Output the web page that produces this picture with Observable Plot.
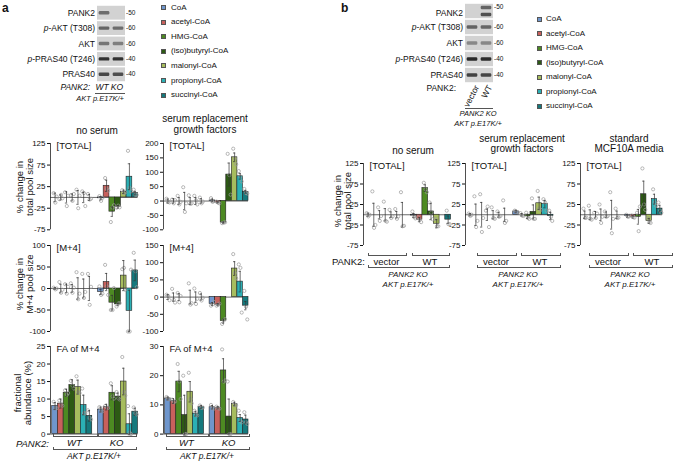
<!DOCTYPE html>
<html><head><meta charset="utf-8">
<script src="https://cdn.jsdelivr.net/npm/d3@7"></script>
<script src="https://cdn.jsdelivr.net/npm/@observablehq/plot@0.6"></script>
<style>
body{margin:0;background:#fff;}
#fig{position:relative;width:674px;height:461px;font-family:"Liberation Sans",Arial,sans-serif;color:#111;overflow:hidden;}
.t{position:absolute;white-space:nowrap;line-height:1.05;}
.br{position:absolute;border:0.8px solid #555;border-top:none;height:2px;box-sizing:content-box;}
.hl{position:absolute;border-top:0.8px solid #555;height:0;}
.sw{position:absolute;width:5px;height:5px;box-sizing:border-box;border:0.7px solid #555;}
.pl{position:absolute;}
</style></head><body><div id="fig"></div>
<script>
// ---------- categories & colours ----------
const metabolites = ["CoA","acetyl-CoA","HMG-CoA","(iso)butyryl-CoA","malonyl-CoA","propionyl-CoA","succinyl-CoA"];
const metColors = ["#6f96cc","#c8605c","#4d8a22","#2d5a14","#a7bd5e","#2bb0b5","#15797d"];

// ---------- blot data ----------
const blotRowsA = ["PANK2","<i>p</i>-AKT (T308)","AKT","<i>p</i>-PRAS40 (T246)","PRAS40"];
const blotMW = ["-50","-60","-60","-40","-40"];
const blotLanesA = ["WT","KO"];
const blotLanesB = ["vector","WT"];
// band: row, lane, band (0 single / -1 upper / 1 lower), intensity
const blotBandsA = [[0,0,0,0.55],[1,0,0,0.6],[1,1,0,0.55],[2,0,0,0.5],[2,1,0,0.45],[3,0,0,0.88],[3,1,0,0.88],[4,0,0,0.75],[4,1,0,0.72]];
const blotBandsB = [[0,1,-1,0.6],[0,1,1,0.7],[1,0,0,0.6],[1,1,0,0.58],[2,0,0,0.4],[2,1,0,0.4],[3,0,0,0.92],[3,1,0,0.9],[4,0,0,0.78],[4,1,0,0.76]];

// ---------- panel a, [TOTAL], no serum (WT x7, KO x7) ----------
const aTotNS_mean = [0,0,0,0,0,0,0, -2,27,-33,-22,13,48,10];
const aTotNS_err  = [10,6,13,8,16,12,7, 4,13,11,3,4,30,4];
const aTotNS_pts  = [[10,-12,2],[-4,6,-2],[12,-20,4],[5,-8,8],[18,-25,4],[14,10,-20],[8,-5,-3],
  [3,-8,-1],[45,20,16],[-57,-24,-18],[-24,-19,-23],[17,10,12],[108,22,14],[18,6,6]];
// ---------- panel a, [TOTAL], serum replacement ----------
const aTotSR_mean = [0,0,0,0,0,0,0, 2,-5,-75,92,152,86,32];
const aTotSR_err  = [7,8,12,30,12,12,8, 5,2,2,40,15,10,5];
const aTotSR_pts  = [[8,-3,-5],[5,-8,3],[18,-12,-3],[48,-38,-8],[20,-10,-8],[18,2,-12],[12,-8,-2],
  [10,-3,0],[-2,-6,-8],[-77,-75,-74],[164,90,22],[182,148,128],[104,85,68],[42,28,26]];
// ---------- panel a, [M+4], no serum ----------
const aM4NS_mean = [0,0,0,0,0,0,0, -8,15,-33,-37,30,-52,42];
const aM4NS_err  = [2,10,10,9,25,22,28, 6,20,17,3,35,48,24];
const aM4NS_pts  = [[2,-2,0],[15,-10,-3],[10,-12,4],[12,-10,2],[38,-25,-12],[34,-22,-8],[34,-38,4],
  [5,-15,-12],[55,5,-15],[-50,-50,1],[-42,-35,-34],[45,48,-3],[-100,-100,44],[83,40,3]];
// ---------- panel a, [M+4], serum replacement ----------
const aM4SR_mean = [0,0,0,null,0,0,0, -20,-22,-70,null,83,45,-25];
const aM4SR_err  = [7,12,10,null,20,15,9, 4,3,6,null,20,30,12];
const aM4SR_pts  = [[7,3,-9],[24,-8,-16],[12,-15,3],[],[40,-22,-18],[25,-20,-5],[12,-10,-2],
  [-25,-21,-14],[-25,-22,-19],[-78,-68,-64],[],[125,70,55],[95,85,-45],[18,-28,-65]];
// ---------- panel a, FA of M+4, no serum ----------
const aFANS_mean = [8,8.7,11.8,14,13.4,8.3,5.2, 7,7.7,11.8,10.7,15,2.8,6.4];
const aFANS_err  = [1,1.3,1,1.5,2,2.8,1.5, 0.7,0.8,2,1,3.8,3,1];
const aFANS_pts  = [[9.2,7.4,7.4],[9.6,8.4,8.1],[12.5,11.2,11.7],[15.2,13.8,13],[16.5,12,11.7],[13,6,5.9],[6.8,4.6,4.2],
  [7.7,6.8,6.5],[8,7.6,7.5],[14.5,10.8,10.1],[12,10.2,9.9],[22,12,11],[8,0.4,0],[7.6,6,5.6]];
// ---------- panel a, FA of M+4, serum replacement ----------
const aFASR_mean = [12.2,11.3,18,6.5,14.5,7,9.3, 9.2,9,21.8,6,10.3,5.5,5];
const aFASR_err  = [0.5,0.8,3.5,6.8,3.5,0.8,0.5, 0.6,0.4,4,6,0.6,1.2,1.5];
const aFASR_pts  = [[12.7,12,11.9],[11.8,10.9,11.2],[24,18,12],[20,0,0],[21,12,10.5],[8,6.6,6.4],[9.8,9,9.1],
  [10,8.9,8.7],[9.4,8.9,8.7],[29,18,18.4],[18,0,0],[11,10,9.9],[8,4.5,4],[7.5,4,3.5]];
// ---------- panel b, [TOTAL] (vector x7, WT x7) ----------
const bNS_mean = [0,0,0,0,0,0,0, -2,-12,65,8,-22,null,-12];
const bNS_err  = [4,28,10,15,7,8,30, 5,5,8,20,10,null,9];
const bNS_pts  = [[4,-4,0],[57,-32,-25],[18,-15,-3],[32,-15,-17],[12,-8,-4],[14,-10,-4],[55,-28,-27],
  [8,-5,-9],[-6,-12,-18],[78,62,55],[30,5,-11],[-10,-28,-28],[],[10,-23,-23]];
const bSR_mean = [0,0,0,0,0,0,0, 8,0,-4,7,28,26,-3];
const bSR_err  = [3,26,30,14,10,6,16, 3,3,5,17,15,9,9];
const bSR_pts  = [[3,-3,0],[45,-30,-15],[50,-42,-8],[10,20,-30],[18,-8,-10],[8,-5,-3],[35,-20,-15],
  [10,7,6],[4,-2,-3],[5,-8,-10],[40,-10,-10],[58,15,12],[38,30,10],[10,-5,-15]];
const bMCF_mean = [0,0,0,0,0,0,0, -3,-5,-5,50,-15,38,15];
const bMCF_err  = [9,12,8,14,7,35,9, 3,3,18,32,6,12,8];
const bMCF_pts  = [[15,-8,-7],[22,-10,-12],[5,-8,3],[25,-20,-5],[8,-5,-3],[55,-45,-10],[15,-8,-7],
  [0,-5,-4],[-2,-6,-7],[5,-40,20],[113,25,12],[-8,-18,-20],[62,30,22],[30,10,5]];

// ---------- tick labels ----------
const ticksPct125 = [125,75,25,-25,-75];
const ticksPct200 = [200,150,100,50,0,-50,-100];
const ticksPct100 = [100,50,0,-50,-100];
const ticksPct150 = [150,100,50,0,-50,-100];
const ticksFA25 = [0,5,10,15,20,25];
const ticksFA30 = [0,10,20,30];

// ---------- helpers ----------
const fig = document.getElementById("fig");
const FONT = '"Liberation Sans", Arial, sans-serif';
function txt(s, x, y, o = {}) {
  const d = document.createElement("div");
  d.className = "t";
  d.innerHTML = s;
  d.style.fontSize = (o.size || 9) + "px";
  if (o.italic) d.style.fontStyle = "italic";
  if (o.bold) d.style.fontWeight = "bold";
  if (o.center) d.style.textAlign = "center";
  if (o.rotEnd) {
    d.style.right = (674 - x) + "px"; d.style.top = y + "px";
    d.style.transformOrigin = "100% 50%";
    d.style.transform = `translateY(-50%) rotate(${o.rotEnd}deg)`;
  } else {
    d.style.left = x + "px"; d.style.top = y + "px";
    const a = o.anchor || "start";
    const tx = a === "end" ? "-100%" : a === "middle" ? "-50%" : "0";
    d.style.transform = `translate(${tx},-50%)` + (o.rot ? ` rotate(${o.rot}deg)` : "");
  }
  fig.appendChild(d);
}
function bracket(x1, x2, y) {
  const d = document.createElement("div");
  d.className = "br";
  d.style.left = x1 + "px"; d.style.top = (y - 2) + "px"; d.style.width = (x2 - x1) + "px";
  fig.appendChild(d);
}
function hline(x1, x2, y) {
  const d = document.createElement("div");
  d.className = "hl";
  d.style.left = x1 + "px"; d.style.top = y + "px"; d.style.width = (x2 - x1) + "px";
  fig.appendChild(d);
}
function place(node, left, top) {
  const w = document.createElement("div");
  w.className = "pl"; w.style.left = left + "px"; w.style.top = top + "px";
  w.appendChild(node); fig.appendChild(w);
}

// ---------- bar chart ----------
const mL = 30, mT = 8, mB = 6, mR = 4;
const jitter = [-0.25, 0.05, 0.28];
function chart(means, errs, pts, opt) {
  const {axisX, yTop, yBot, xEnd, domain, ticks, label, allBars} = opt;
  const rows = means.map((m, i) => ({
    slot: i < 7 ? i : i + 1, cat: i % 7, m, e: errs[i], bar: allBars || i >= 7
  })).filter(d => d.m !== null);
  const points = [];
  means.forEach((m, i) => (pts[i] || []).forEach((v, j) =>
    points.push({x: (i < 7 ? i : i + 1) + jitter[j], y: v})));
  const W = (xEnd - axisX) + mL + mR;
  const H = (yBot - yTop) + mT + mB;
  const p = Plot.plot({
    width: W, height: H, marginLeft: mL, marginTop: mT, marginBottom: mB, marginRight: mR,
    style: {background: "transparent", fontFamily: FONT, fontSize: "8px", color: "#111", overflow: "visible"},
    x: {domain: [-0.8, 14.5], axis: null},
    y: {domain: [domain[0], domain[1]], ticks, tickSize: 3, tickPadding: 2, tickFormat: d => String(d), label: null},
    marks: [
      Plot.ruleY([0], {stroke: "#444", strokeWidth: 0.8}),
      Plot.rect(rows.filter(d => d.bar), {
        x1: d => d.slot - 0.5, x2: d => d.slot + 0.5, y1: 0, y2: "m",
        fill: d => metColors[d.cat], stroke: "#222", strokeWidth: 0.6
      }),
      Plot.dot(points, {x: "x", y: "y", r: 1.6, stroke: "#9a9a9a", strokeWidth: 0.7, fill: "none"}),
      Plot.ruleX(rows, {x: "slot", y1: d => d.m - d.e, y2: d => d.m + d.e, stroke: "#333", strokeWidth: 0.7}),
      Plot.ruleY(rows, {y: d => d.m + d.e, x1: d => d.slot - 0.2, x2: d => d.slot + 0.2, stroke: "#333", strokeWidth: 0.7}),
      Plot.ruleY(rows, {y: d => d.m - d.e, x1: d => d.slot - 0.2, x2: d => d.slot + 0.2, stroke: "#333", strokeWidth: 0.7}),
      Plot.ruleX([-0.8], {y1: domain[0], y2: domain[1], stroke: "#222", strokeWidth: 0.8}),
      Plot.text([label], {text: d => d, frameAnchor: "top-left", textAnchor: "start", dx: 6, dy: -1, fontSize: 9.5})
    ]
  });
  place(p, axisX - mL, yTop - mT);
}

// ---------- blot ----------
function blot(bands, nLanes, left, top, w, h) {
  const rowIdx = [0, 1, 2, 3, 4];
  const p = Plot.plot({
    width: w, height: h, margin: 0,
    style: {background: "transparent", overflow: "visible"},
    x: {domain: [0, nLanes], axis: null},
    y: {domain: [5, 0], axis: null},
    marks: [
      Plot.rect(rowIdx, {x1: 0, x2: nLanes, y1: d => d + 0.05, y2: d => d + 0.95, fill: "#d2d2d2"}),
      Plot.rect(bands, {
        x1: d => d[1] + 0.12, x2: d => d[1] + 0.88,
        y1: d => d[0] + 0.5 + d[2] * 0.22 - 0.11, y2: d => d[0] + 0.5 + d[2] * 0.22 + 0.11,
        fill: "#1a1a1a", fillOpacity: d => d[3], rx: 1.2
      })
    ]
  });
  place(p, left, top);
}

// ================= PANEL A =================
txt("a", 2, 8, {size: 12, bold: true});
blot(blotBandsA, blotLanesA.length, 97, 5, 28, 77);
blotRowsA.forEach((r, i) => {
  const yc = 5 + 77 / 5 * (i + 0.5);
  txt(r, 95, yc, {anchor: "end", size: 8.5});
  txt(blotMW[i], 126, yc, {size: 6.5});
});
txt("PANK2:", 90, 87, {anchor: "end", size: 8.5, italic: true});
txt(blotLanesA[0], 102, 87, {anchor: "middle", size: 8.5, italic: true});
txt(blotLanesA[1], 117, 87, {anchor: "middle", size: 8.5, italic: true});
hline(95, 125, 92.5);
txt("AKT p.E17K/+", 124, 99, {anchor: "end", size: 7.5, italic: true});
metabolites.forEach((m, i) => {
  const y = 7.5 + 14.6 * i;
  const s = document.createElement("div");
  s.className = "sw"; s.style.left = "161px"; s.style.top = (y - 2.5) + "px"; s.style.background = metColors[i];
  fig.appendChild(s);
  txt(m, 171, y, {size: 8});
});

txt("no serum", 97, 131, {anchor: "middle", size: 10});
txt("serum replacement<br>growth factors", 205, 124, {anchor: "middle", size: 10, center: true});

txt("% change in<br>total pool size", 25, 187, {anchor: "middle", rot: -90, size: 9.5, center: true});
txt("% change in<br>M+4 pool size", 25, 284, {anchor: "middle", rot: -90, size: 9.5, center: true});
txt("fractional<br>abundance (%)", 23, 393, {anchor: "middle", rot: -90, size: 9.5, center: true});

chart(aTotNS_mean, aTotNS_err, aTotNS_pts, {axisX: 50, yTop: 142.7, yBot: 229, xEnd: 137.5, domain: [-75, 125], ticks: ticksPct125, label: "[TOTAL]"});
chart(aTotSR_mean, aTotSR_err, aTotSR_pts, {axisX: 163, yTop: 142.7, yBot: 229, xEnd: 248, domain: [-100, 200], ticks: ticksPct200, label: "[TOTAL]"});
chart(aM4NS_mean, aM4NS_err, aM4NS_pts, {axisX: 50, yTop: 245, yBot: 331, xEnd: 137.5, domain: [-100, 100], ticks: ticksPct100, label: "[M+4]"});
chart(aM4SR_mean, aM4SR_err, aM4SR_pts, {axisX: 163, yTop: 245, yBot: 331, xEnd: 248, domain: [-100, 150], ticks: ticksPct150, label: "[M+4]"});
chart(aFANS_mean, aFANS_err, aFANS_pts, {axisX: 50, yTop: 345.7, yBot: 433.3, xEnd: 137.5, domain: [0, 25], ticks: ticksFA25, label: "FA of M+4", allBars: true});
chart(aFASR_mean, aFASR_err, aFASR_pts, {axisX: 163, yTop: 345.7, yBot: 433.3, xEnd: 248, domain: [0, 30], ticks: ticksFA30, label: "FA of M+4", allBars: true});

txt("PANK2:", 49, 443.5, {anchor: "end", size: 9.5, italic: true});
[[53, 96, 98, 135], [166, 207, 209, 248]].forEach(([a1, a2, b1, b2]) => {
  bracket(a1, a2, 436); bracket(b1, b2, 436);
  txt(blotLanesA[0], (a1 + a2) / 2, 443, {anchor: "middle", size: 9.5, italic: true});
  txt(blotLanesA[1], (b1 + b2) / 2, 443, {anchor: "middle", size: 9.5, italic: true});
  bracket(a1, b2, 448.5);
  txt("AKT p.E17K/+", (a1 + b2) / 2, 456, {anchor: "middle", size: 8.5, italic: true});
});

// ================= PANEL B =================
txt("b", 341, 8, {size: 12, bold: true});
blot(blotBandsB, blotLanesB.length, 465, 3, 28, 80);
blotRowsA.forEach((r, i) => {
  const yc = 3 + 80 / 5 * (i + 0.5);
  txt(r, 463, i === 0 ? yc + 2 : yc, {anchor: "end", size: 8.5});
  txt(blotMW[i], 494, i === 0 ? 7 : yc, {size: 6.5});
});
txt("PANK2:", 456, 88, {anchor: "end", size: 8.5});
txt(blotLanesB[0], 477, 86, {rotEnd: -62, size: 8.5});
txt(blotLanesB[1], 490, 86, {rotEnd: -62, size: 8.5});
hline(465, 493, 107.5);
txt("PANK2 KO", 478, 114, {anchor: "middle", size: 7.5, italic: true});
txt("AKT p.E17K/+", 478, 124, {anchor: "middle", size: 7.5, italic: true});
metabolites.forEach((m, i) => {
  const y = 19 + 14.5 * i;
  const s = document.createElement("div");
  s.className = "sw"; s.style.left = "537px"; s.style.top = (y - 2.5) + "px"; s.style.background = metColors[i];
  fig.appendChild(s);
  txt(m, 546, y, {size: 8});
});

txt("no serum", 413, 151, {anchor: "middle", size: 10});
txt("serum replacement<br>growth factors", 522, 143.5, {anchor: "middle", size: 10, center: true});
txt("standard<br>MCF10A media", 629, 143.5, {anchor: "middle", size: 10, center: true});
txt("% change in<br>total pool size", 343, 201, {anchor: "middle", rot: -90, size: 9.5, center: true});

chart(bNS_mean, bNS_err, bNS_pts, {axisX: 362.5, yTop: 163, yBot: 245, xEnd: 450, domain: [-75, 125], ticks: ticksPct125, label: "[TOTAL]"});
chart(bSR_mean, bSR_err, bSR_pts, {axisX: 465, yTop: 163, yBot: 245, xEnd: 553, domain: [-75, 125], ticks: ticksPct125, label: "[TOTAL]"});
chart(bMCF_mean, bMCF_err, bMCF_pts, {axisX: 580, yTop: 163, yBot: 245, xEnd: 662, domain: [-75, 125], ticks: ticksPct125, label: "[TOTAL]"});

txt("PANK2:", 365, 261.5, {anchor: "end", size: 9.5});
[[368, 405, 412, 448], [477, 515, 521, 559], [589, 627, 633, 671]].forEach(([a1, a2, b1, b2]) => {
  bracket(a1, a2, 255); bracket(b1, b2, 255);
  txt(blotLanesB[0], (a1 + a2) / 2, 261.5, {anchor: "middle", size: 9.5});
  txt(blotLanesB[1], (b1 + b2) / 2, 261.5, {anchor: "middle", size: 9.5});
  bracket(a1, b2, 267);
  txt("PANK2 KO", (a1 + b2) / 2, 275, {anchor: "middle", size: 8, italic: true});
  txt("AKT p.E17K/+", (a1 + b2) / 2, 284.5, {anchor: "middle", size: 8, italic: true});
});
</script></body></html>
